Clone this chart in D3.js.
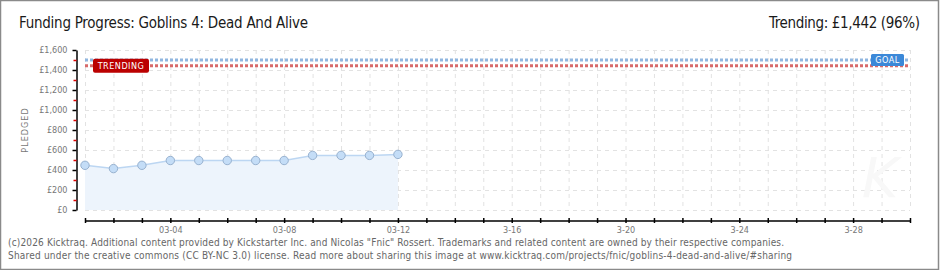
<!DOCTYPE html>
<html>
<head>
<meta charset="utf-8">
<script src="https://cdn.jsdelivr.net/npm/d3@7"></script>
<style>
body { margin: 0; background: #fff; }
svg { display: block; }
.tick text { font-family: "DejaVu Sans Condensed", "DejaVu Sans", sans-serif; font-size: 9px; fill: #777; }
</style>
</head>
<body>
<div class="container"></div>
<script>
var width = 940;
var height = 270;

// data
var days = ["2026-03-01","2026-03-02","2026-03-03","2026-03-04","2026-03-05","2026-03-06",
            "2026-03-07","2026-03-08","2026-03-09","2026-03-10","2026-03-11","2026-03-12"];
var pledged = [447, 414, 447, 495, 495, 495, 495, 495, 546, 546, 546, 556];
var goal = 1500;
var trending = 1442;
var xStart = "2026-03-01";
var xEnd = "2026-03-30";
var xLabelDays = ["2026-03-04","2026-03-08","2026-03-12","2026-03-16","2026-03-20","2026-03-24","2026-03-28"];
var xLabels = ["03-04","03-08","03-12","3-16","3-20","3-24","3-28"];
var yTicks = [0, 200, 400, 600, 800, 1000, 1200, 1400, 1600];
var yMinor = [100, 300, 500, 700, 900, 1100, 1300, 1500];

var parse = d3.timeParse("%Y-%m-%d");

var translate = function(x, y) {
    return 'translate(' + x + ',' + y + ')';
};

var draw = function() {
    var svg = d3.select('.container').append('svg')
        .attr('width', width)
        .attr('height', height);

    // frame
    svg.append('rect')
        .attr('x', 0.5).attr('y', 0.5)
        .attr('width', width - 2).attr('height', height - 1)
        .attr('fill', '#fff')
        .attr('stroke', '#8a8a8a')
        .attr('stroke-width', 1.5);

    var x = d3.scaleTime()
        .domain([parse(xStart), parse(xEnd)])
        .range([85, 910]);

    var y = d3.scaleLinear()
        .domain([0, 1600])
        .range([210, 50]);

    var allDays = d3.timeDay.range(parse(xStart), d3.timeDay.offset(parse(xEnd), 1));

    // grid
    var grid = svg.append('g').attr('class', 'grid');
    grid.selectAll('.vg').data(allDays).enter().append('line')
        .attr('x1', function(d) { return x(d) + 0.5; })
        .attr('x2', function(d) { return x(d) + 0.5; })
        .attr('y1', 50).attr('y2', 210)
        .attr('stroke', '#e2e2e2')
        .attr('stroke-dasharray', '4,4');
    grid.selectAll('.hg').data(yTicks).enter().append('line')
        .attr('x1', 85).attr('x2', 910)
        .attr('y1', function(d) { return y(d) + 0.5; })
        .attr('y2', function(d) { return y(d) + 0.5; })
        .attr('stroke', '#e2e2e2')
        .attr('stroke-dasharray', '4,4');

    // faint watermark
    svg.append('text')
        .attr('x', 880).attr('y', 197)
        .attr('text-anchor', 'middle')
        .attr('font-family', 'DejaVu Sans')
        .attr('font-style', 'italic')
        .attr('font-size', 56)
        .attr('fill', '#f8f8f8')
        .text('K');

    var points = days.map(function(d, i) { return { date: parse(d), value: pledged[i] }; });

    var area = d3.area()
        .x(function(d) { return x(d.date); })
        .y0(y(0))
        .y1(function(d) { return y(d.value); });

    var line = d3.line()
        .x(function(d) { return x(d.date); })
        .y(function(d) { return y(d.value); });

    svg.append('path').datum(points)
        .attr('d', area)
        .attr('fill', '#edf4fc');

    svg.append('path').datum(points)
        .attr('d', line)
        .attr('fill', 'none')
        .attr('stroke', '#bcd6f2')
        .attr('stroke-width', 1.5);

    // goal and trending lines
    svg.append('line')
        .attr('x1', 85).attr('x2', 910)
        .attr('y1', y(goal)).attr('y2', y(goal))
        .attr('stroke', '#8fb6e0')
        .attr('stroke-width', 3)
        .attr('stroke-dasharray', '3,2');
    svg.append('line')
        .attr('x1', 85).attr('x2', 910)
        .attr('y1', y(trending)).attr('y2', y(trending))
        .attr('stroke', '#d86a6a')
        .attr('stroke-width', 3)
        .attr('stroke-dasharray', '3,2');

    svg.selectAll('.pt').data(points).enter().append('circle')
        .attr('cx', function(d) { return x(d.date); })
        .attr('cy', function(d) { return y(d.value); })
        .attr('r', 4.2)
        .attr('fill', '#c4ddf7')
        .attr('stroke', '#97b1cf')
        .attr('stroke-width', 1);

    // labels on the lines
    svg.append('rect')
        .attr('x', 93).attr('y', y(trending) - 7)
        .attr('width', 56).attr('height', 14)
        .attr('rx', 2)
        .attr('fill', '#bb0000');
    svg.append('text')
        .attr('x', 121).attr('y', y(trending) + 3.5)
        .attr('text-anchor', 'middle')
        .attr('font-family', 'DejaVu Sans Condensed, DejaVu Sans, sans-serif')
        .attr('font-size', 9)
        .attr('letter-spacing', 0.5)
        .attr('fill', '#fff')
        .text('TRENDING');

    svg.append('rect')
        .attr('x', 871).attr('y', y(goal) - 6)
        .attr('width', 33).attr('height', 12)
        .attr('rx', 1.5)
        .attr('fill', '#3b88d8');
    svg.append('text')
        .attr('x', 887.5).attr('y', y(goal) + 3)
        .attr('text-anchor', 'middle')
        .attr('font-family', 'DejaVu Sans Condensed, DejaVu Sans, sans-serif')
        .attr('font-size', 9)
        .attr('letter-spacing', 0.5)
        .attr('fill', '#fff')
        .text('GOAL');

    // y axis
    var yAxis = d3.axisLeft(y)
        .tickValues(yTicks)
        .tickSize(4)
        .tickSizeOuter(0)
        .tickPadding(5)
        .tickFormat(function(d) { return '£' + d3.format(',')(d); });
    var gy = svg.append('g')
        .attr('transform', translate(76.5, 0))
        .call(yAxis);
    gy.select('.domain').attr('stroke', '#000').attr('stroke-width', 1.5);
    gy.selectAll('.tick line').attr('stroke', '#000').attr('stroke-width', 1.5);

    var yAxisMinor = d3.axisLeft(y)
        .tickValues(yMinor)
        .tickSize(3)
        .tickFormat('');
    var gym = svg.append('g')
        .attr('transform', translate(76.5, 0))
        .call(yAxisMinor);
    gym.select('.domain').remove();
    gym.selectAll('.tick line').attr('stroke', '#e00000').attr('stroke-width', 1.5);

    svg.append('text')
        .attr('transform', translate(28, 130) + ' rotate(-90)')
        .attr('text-anchor', 'middle')
        .attr('font-family', 'DejaVu Sans Condensed, DejaVu Sans, sans-serif')
        .attr('font-size', 9)
        .attr('letter-spacing', 1)
        .attr('fill', '#777')
        .text('PLEDGED');

    // x axis
    var xAxis = d3.axisBottom(x)
        .tickValues(allDays)
        .tickSize(2)
        .tickSizeOuter(0)
        .tickPadding(4)
        .tickFormat(function(d) {
            var i = xLabelDays.indexOf(d3.timeFormat('%Y-%m-%d')(d));
            return i >= 0 ? xLabels[i] : '';
        });
    var gx = svg.append('g')
        .attr('transform', translate(0, 220.5))
        .call(xAxis);
    gx.select('.domain').attr('stroke', '#000').attr('stroke-width', 1.5);
    gx.selectAll('.tick line').attr('y1', -2.5).attr('y2', 2.5).attr('stroke', '#000').attr('stroke-width', 1.5);

    // titles
    svg.append('text')
        .attr('x', 19).attr('y', 28)
        .attr('font-family', 'Liberation Sans Narrow, DejaVu Sans Condensed, sans-serif')
        .attr('font-size', 15)
        .attr('fill', '#1a1a1a')
        .attr('textLength', 289)
        .text('Funding Progress: Goblins 4: Dead And Alive');
    svg.append('text')
        .attr('x', 920).attr('y', 28)
        .attr('text-anchor', 'end')
        .attr('font-family', 'Liberation Sans Narrow, DejaVu Sans Condensed, sans-serif')
        .attr('font-size', 15)
        .attr('fill', '#1a1a1a')
        .attr('textLength', 151)
        .text('Trending:  £1,442 (96%)');

    // footer
    var footer = [
        '(c)2026 Kicktraq. Additional content provided by Kickstarter Inc. and Nicolas "Fnic" Rossert. Trademarks and related content are owned by their respective companies.',
        'Shared under the creative commons (CC BY-NC 3.0) license. Read more about sharing this image at www.kicktraq.com/projects/fnic/goblins-4-dead-and-alive/#sharing'
    ];
    var footerWidth = [776, 784];
    svg.selectAll('.foot').data(footer).enter().append('text')
        .attr('x', 8)
        .attr('y', function(d, i) { return 246 + i * 13; })
        .attr('font-family', 'DejaVu Sans Condensed, DejaVu Sans, sans-serif')
        .attr('font-size', 10)
        .attr('fill', '#666')
        .attr('textLength', function(d, i) { return footerWidth[i]; })
        .text(function(d) { return d; });
};

window.onload = draw;
</script>
</body>
</html>
